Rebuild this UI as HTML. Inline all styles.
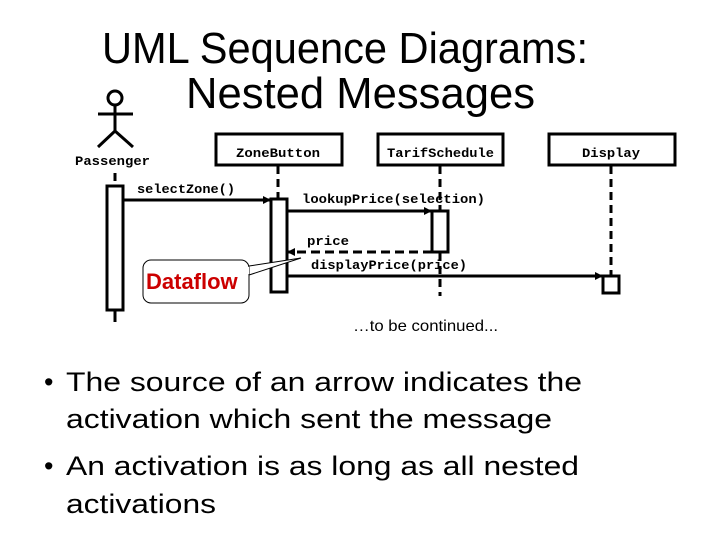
<!DOCTYPE html>
<html><head><meta charset="utf-8"><style>
html,body{margin:0;padding:0;background:#fff;}
svg{display:block;}
.t{font-family:"Liberation Sans",Arial,sans-serif;fill:#000;}
.m{font-family:"Liberation Mono","Courier New",monospace;font-weight:bold;font-size:13px;fill:#000;}
</style></head><body>
<svg width="720" height="540" viewBox="0 0 720 540" xmlns="http://www.w3.org/2000/svg">
<defs>
<marker id="a" markerWidth="8" markerHeight="8" refX="7" refY="4" orient="auto" markerUnits="userSpaceOnUse">
<path d="M0,0 L8,4 L0,8 z" fill="#000"/></marker>
</defs>
<text class="t" x="102" y="63" font-size="44" textLength="486" lengthAdjust="spacingAndGlyphs">UML Sequence Diagrams:</text>
<text class="t" x="186" y="108" font-size="44" textLength="349" lengthAdjust="spacingAndGlyphs">Nested Messages</text>

<g stroke="#000" stroke-width="3" fill="none">
<circle cx="115" cy="98" r="7"/>
<line x1="115" y1="105" x2="115" y2="131"/>
<line x1="98" y1="114" x2="133" y2="114"/>
<line x1="115" y1="131" x2="98" y2="147"/>
<line x1="115" y1="131" x2="133" y2="147"/>
</g>
<text class="m" x="75" y="165" textLength="75" lengthAdjust="spacingAndGlyphs">Passenger</text>

<g stroke="#000" stroke-width="3" fill="#fff">
<rect x="216" y="134" width="126" height="31"/>
<rect x="378" y="134" width="125" height="31"/>
<rect x="549" y="134" width="126" height="31"/>
</g>
<text class="m" x="236" y="157" textLength="84" lengthAdjust="spacingAndGlyphs">ZoneButton</text>
<text class="m" x="387" y="157" textLength="107" lengthAdjust="spacingAndGlyphs">TarifSchedule</text>
<text class="m" x="582" y="157" textLength="58" lengthAdjust="spacingAndGlyphs">Display</text>

<g stroke="#000" stroke-width="3" stroke-dasharray="8,5">
<line x1="115" y1="173" x2="115" y2="185"/>
<line x1="278" y1="166" x2="278" y2="198"/>
<line x1="440" y1="166" x2="440" y2="210"/>
<line x1="440" y1="253" x2="440" y2="296"/>
<line x1="611" y1="166" x2="611" y2="276"/>
</g>
<line x1="115" y1="310" x2="115" y2="322" stroke="#000" stroke-width="3"/>

<g stroke="#000" stroke-width="3" fill="#fff">
<rect x="107" y="186" width="16" height="124"/>
<rect x="271" y="199" width="16" height="93"/>
<rect x="432" y="211" width="16" height="41"/>
<rect x="603" y="276" width="16" height="17"/>
</g>

<g stroke="#000" stroke-width="3" fill="none">
<line x1="123" y1="200" x2="270" y2="200" marker-end="url(#a)"/>
<line x1="287" y1="211" x2="431" y2="211" marker-end="url(#a)"/>
<line x1="432" y1="252" x2="288" y2="252" stroke-dasharray="9,5" marker-end="url(#a)"/>
<line x1="287" y1="276" x2="602" y2="276" marker-end="url(#a)"/>
</g>
<text class="m" x="137" y="193" textLength="98" lengthAdjust="spacingAndGlyphs">selectZone()</text>
<text class="m" x="302" y="203" textLength="183" lengthAdjust="spacingAndGlyphs">lookupPrice(selection)</text>
<text class="m" x="307" y="245" textLength="42" lengthAdjust="spacingAndGlyphs">price</text>
<text class="m" x="311" y="269" textLength="156" lengthAdjust="spacingAndGlyphs">displayPrice(price)</text>

<path d="M249,266 L301,258 L249,275" fill="#fff" stroke="#000" stroke-width="1"/>
<rect x="143" y="260" width="106" height="43" rx="8" fill="#fff" stroke="#000" stroke-width="1"/>
<path d="M248,267 L248,274" stroke="#fff" stroke-width="2"/>
<text class="t" x="146" y="289" font-size="22" font-weight="bold" style="fill:#cc0000">Dataflow</text>

<text class="t" x="353" y="331" font-size="16" textLength="145" lengthAdjust="spacingAndGlyphs">…to be continued...</text>

<g class="t" font-size="27">
<text x="44" y="391">•</text>
<text x="66" y="391" textLength="516" lengthAdjust="spacingAndGlyphs">The source of an arrow indicates the</text>
<text x="66" y="428" textLength="486" lengthAdjust="spacingAndGlyphs">activation which sent the message</text>
<text x="44" y="475">•</text>
<text x="66" y="475" textLength="513" lengthAdjust="spacingAndGlyphs">An activation is as long as all nested</text>
<text x="66" y="513" textLength="150" lengthAdjust="spacingAndGlyphs">activations</text>
</g>
</svg>
</body></html>
